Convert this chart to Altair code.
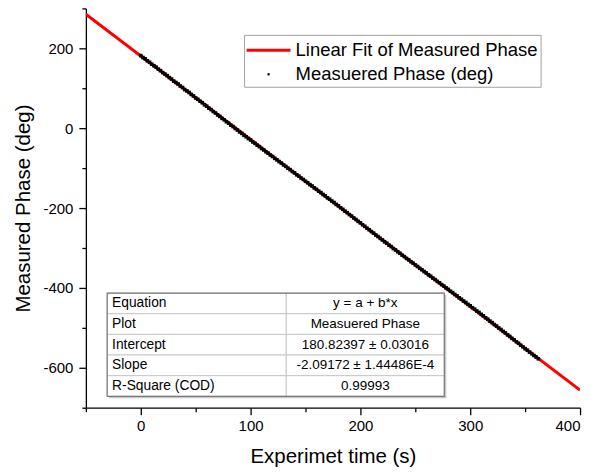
import altair as alt
import pandas as pd

# ---------------- data ----------------
time_s = list(range(0, 364, 2))
phase_deg = [
    181.7, 177.0, 173.7, 168.9, 165.1, 160.2, 156.5, 152.8, 147.9, 144.1,
    139.2, 135.5, 131.7, 126.8, 123.1, 117.9, 114.4, 110.6, 105.6, 101.9,
    96.8, 93.4, 89.5, 84.5, 80.7, 75.7, 72.3, 67.5, 63.8, 58.8,
    55.1, 50.2, 46.6, 41.7, 38.0, 33.1, 29.4, 24.5, 20.9, 16.1,
    12.4, 7.5, 3.9, -0.8, -4.6, -9.3, -13.0, -17.8, -21.5, -26.0,
    -29.6, -34.4, -38.1, -42.6, -46.2, -50.9, -54.5, -59.1, -62.7, -67.3,
    -70.9, -75.6, -79.2, -83.7, -87.3, -92.0, -95.6, -100.3, -103.9, -108.4,
    -112.0, -116.7, -120.2, -124.9, -128.4, -133.0, -136.6, -141.3, -144.8, -149.5,
    -153.1, -157.7, -161.3, -166.0, -169.6, -174.3, -177.9, -182.5, -186.1, -190.8,
    -194.6, -199.3, -203.1, -207.8, -211.5, -216.3, -220.1, -224.9, -228.7, -233.4,
    -237.2, -242.0, -245.8, -250.6, -254.4, -259.0, -262.8, -267.5, -271.3, -276.0,
    -279.8, -284.4, -288.2, -292.9, -296.6, -301.4, -305.1, -309.6, -313.3, -317.9,
    -321.6, -326.2, -329.9, -334.4, -338.1, -342.6, -346.3, -350.9, -354.5, -359.0,
    -362.6, -367.2, -370.8, -375.4, -379.0, -383.5, -387.1, -391.7, -395.3, -399.9,
    -403.5, -408.1, -411.7, -416.4, -420.0, -424.7, -428.3, -432.9, -436.5, -441.2,
    -444.8, -449.5, -453.1, -457.7, -461.4, -466.2, -469.9, -474.7, -478.4, -483.1,
    -486.9, -491.7, -495.5, -500.3, -504.1, -508.9, -512.7, -517.6, -521.4, -526.3,
    -530.1, -534.9, -538.7, -543.6, -547.4, -552.3, -556.1, -560.8, -564.6, -569.3,
    -573.1, -577.4,
]
fit_x = [-50, 400]
fit_y = [285.41, -655.86]

legend_labels = ["Linear Fit of Measured Phase", "Measuered Phase (deg)"]
table_keys = ["Equation", "Plot", "Intercept", "Slope", "R-Square (COD)"]
table_vals = ["y = a + b*x", "Measuered Phase", "180.82397 \u00b1 0.03016",
              "-2.09172 \u00b1 1.44486E-4", "0.99993"]

x_major = [0, 100, 200, 300, 400]
x_minor = [-50, 50, 150, 250, 350]
y_major = [-600, -400, -200, 0, 200]
y_minor = [-700, -500, -300, -100, 100, 300]

# ---------------- layout / style ----------------
FONT = "Liberation Sans"
XDOM = [-50, 400]
YDOM = [-700, 300]
W, H = 495, 400
RED = "#ff0000"

# table geometry (in data units of the plot)
TAB_X0, TAB_XM, TAB_X1 = -30.6, 132.5, 276.4
TAB_Y0, ROW_H = -413.0, 51.7

# legend geometry (pixels inside the plot area)
LEG_BOX = (159, 456, 27, 79)
LEG_ROW_Y = (42, 66)
LEG_SYM_X = (161, 205)
LEG_TXT_X = 210

meas = pd.DataFrame({"t": time_s[:len(phase_deg)], "phase": phase_deg,
                     "series": legend_labels[1]})
fit = pd.DataFrame({"t": fit_x, "phase": fit_y, "series": legend_labels[0]})

rows = []
for i, (k, v) in enumerate(zip(table_keys, table_vals)):
    top = TAB_Y0 - i * ROW_H
    rows.append({"key": k, "val": v, "x0": TAB_X0, "xm": TAB_XM, "x1": TAB_X1,
                 "xl": TAB_X0 + 4.5, "xc": (TAB_XM + TAB_X1) / 2,
                 "yt": top, "yb": top - ROW_H, "yc": top - ROW_H / 2})
tab = pd.DataFrame(rows)
box = pd.DataFrame([{"x0": TAB_X0, "x1": TAB_X1, "yt": TAB_Y0,
                     "yb": TAB_Y0 - 5 * ROW_H}])

xs = alt.Scale(domain=XDOM, nice=False, zero=False)
ys = alt.Scale(domain=YDOM, nice=False, zero=False)

axis_common = dict(grid=False, domainColor="black", tickColor="black",
                   domainWidth=1.3, tickWidth=1.3, labelFont=FONT,
                   labelFontSize=15, labelColor="black", titleFont=FONT,
                   titleFontSize=20.5, titleFontWeight="normal",
                   titleColor="black")

x_axis_major = alt.Axis(values=x_major, title="Experimet time (s)", tickSize=7,
                        labelPadding=4, titlePadding=13, orient="bottom",
                        labelExpr="'' + datum.value", **axis_common)
y_axis_major = alt.Axis(values=y_major, title="Measured Phase (deg)", tickSize=7,
                        labelPadding=6, titlePadding=9, orient="left",
                        labelExpr="'' + datum.value", **axis_common)
x_axis_minor = alt.Axis(values=x_minor, tickSize=4, labels=False, domain=False,
                        title=None, grid=False, orient="bottom",
                        tickColor="black", tickWidth=1.3)
y_axis_minor = alt.Axis(values=y_minor, tickSize=4, labels=False, domain=False,
                        title=None, grid=False, orient="left",
                        tickColor="black", tickWidth=1.3)

fit_line = alt.Chart(fit).mark_line(strokeWidth=3, color=RED, clip=True).encode(
    x=alt.X("t:Q", scale=xs, axis=x_axis_major),
    y=alt.Y("phase:Q", scale=ys, axis=y_axis_major),
)

points = alt.Chart(meas).mark_square(size=13, opacity=1, filled=True,
                                     color="black").encode(
    x=alt.X("t:Q", scale=xs, axis=x_axis_minor),
    y=alt.Y("phase:Q", scale=ys, axis=y_axis_minor),
)

# ---- statistics table ----
shadow = alt.Chart(box).mark_rect(fill="#c8c8c8", xOffset=2, x2Offset=2,
                                  yOffset=2, y2Offset=2).encode(
    x=alt.X("x0:Q", scale=xs, axis=None), x2="x1:Q",
    y=alt.Y("yt:Q", scale=ys, axis=None), y2="yb:Q",
)
cells_l = alt.Chart(tab).mark_rect(fill="white", stroke="#c8c8c8",
                                   strokeWidth=1).encode(
    x=alt.X("x0:Q", scale=xs, axis=None), x2="xm:Q",
    y=alt.Y("yt:Q", scale=ys, axis=None), y2="yb:Q",
)
cells_r = alt.Chart(tab).mark_rect(fill="white", stroke="#c8c8c8",
                                   strokeWidth=1).encode(
    x=alt.X("xm:Q", scale=xs, axis=None), x2="x1:Q",
    y=alt.Y("yt:Q", scale=ys, axis=None), y2="yb:Q",
)
border = alt.Chart(box).mark_rect(fillOpacity=0, stroke="#7a7a7a",
                                  strokeWidth=1.2).encode(
    x=alt.X("x0:Q", scale=xs, axis=None), x2="x1:Q",
    y=alt.Y("yt:Q", scale=ys, axis=None), y2="yb:Q",
)
text_l = alt.Chart(tab).mark_text(align="left", baseline="middle", font=FONT,
                                  fontSize=13.8, color="black").encode(
    x=alt.X("xl:Q", scale=xs, axis=None),
    y=alt.Y("yc:Q", scale=ys, axis=None),
    text="key:N",
)
text_r = alt.Chart(tab).mark_text(align="center", baseline="middle", font=FONT,
                                  fontSize=13.5, color="black").encode(
    x=alt.X("xc:Q", scale=xs, axis=None),
    y=alt.Y("yc:Q", scale=ys, axis=None),
    text="val:N",
)

# ---- legend ----
leg_df = pd.DataFrame({"label": legend_labels})
one = pd.DataFrame({"k": [0]})
leg_box = alt.Chart(one).mark_rect(fill="white", stroke="#a0a0a0",
                                   strokeWidth=1).encode(
    x=alt.value(LEG_BOX[0]), x2=alt.value(LEG_BOX[1]),
    y=alt.value(LEG_BOX[2]), y2=alt.value(LEG_BOX[3]),
)
leg_line = alt.Chart(one).mark_rule(color=RED, strokeWidth=3).encode(
    x=alt.value(LEG_SYM_X[0]), x2=alt.value(LEG_SYM_X[1]),
    y=alt.value(LEG_ROW_Y[0]),
)
leg_dot = alt.Chart(one).mark_square(size=5, color="black", opacity=1,
                                     filled=True).encode(
    x=alt.value((LEG_SYM_X[0] + LEG_SYM_X[1]) / 2), y=alt.value(LEG_ROW_Y[1]),
)
leg_t1 = alt.Chart(leg_df).transform_filter(
    alt.datum.label == legend_labels[0]
).mark_text(align="left", baseline="middle", font=FONT, fontSize=18.5,
            color="black").encode(
    x=alt.value(LEG_TXT_X), y=alt.value(LEG_ROW_Y[0]), text="label:N")
leg_t2 = alt.Chart(leg_df).transform_filter(
    alt.datum.label == legend_labels[1]
).mark_text(align="left", baseline="middle", font=FONT, fontSize=18.5,
            color="black").encode(
    x=alt.value(LEG_TXT_X), y=alt.value(LEG_ROW_Y[1]), text="label:N")

chart = alt.layer(
    fit_line, points, shadow, cells_l, cells_r, border, text_l, text_r,
    leg_box, leg_line, leg_dot, leg_t1, leg_t2,
).resolve_axis(x="independent", y="independent").properties(
    width=W, height=H,
    autosize=alt.AutoSizeParams(type="none"),
    padding={"left": 78, "top": 0, "right": 20, "bottom": 64},
    background="white",
).configure_view(stroke=None)

chart.save("out.html", embed_options={"renderer": "svg", "actions": False})
